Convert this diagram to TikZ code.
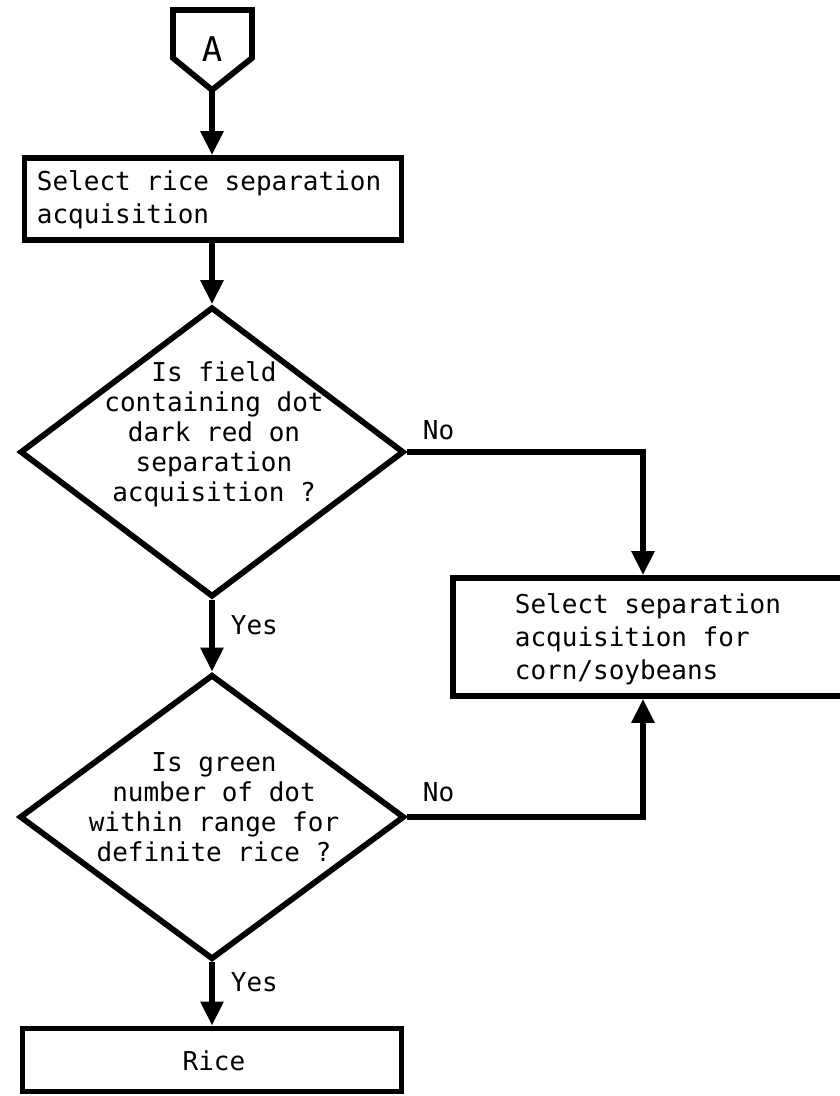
\documentclass[tikz,border=0pt]{standalone}
\usepackage{fontspec}
\setmonofont{DejaVu Sans Mono}
\usetikzlibrary{shapes.geometric,arrows.meta}
\begin{document}
\begin{tikzpicture}[x=1pt,y=-1pt,line width=5.8pt,line join=miter,
  box/.style={draw,rectangle,inner sep=0pt},
  dia/.style={draw,diamond,inner sep=0pt},
  txt/.style={font=\fontsize{26}{30}\selectfont\ttfamily,align=center,inner sep=0pt},
  btxt/.style={font=\fontsize{26}{33}\selectfont\ttfamily,align=left,inner sep=0pt,anchor=west},
  lbl/.style={font=\fontsize{26}{30}\selectfont\ttfamily,inner sep=0pt,anchor=west},
  arr/.style={-{Triangle[width=22pt,length=24pt]}}]
\useasboundingbox (0,0) rectangle (840,1096);
\clip (0,0) rectangle (840,1096);
% off-page connector A
\draw (173,10) -- (252,10) -- (252,58) -- (212,90) -- (173,58) -- cycle;
\node[font=\fontsize{34}{34}\selectfont\ttfamily,inner sep=0pt] (A) at (212,49) {A};
\coordinate (Ap) at (212,90);
% boxes
\node[box,minimum width=377pt,minimum height=82pt] (b1) at (213,199) {};
\node[btxt] (b1t) at (34,200) {Select rice separation\\acquisition};
\node[dia,minimum width=384pt,minimum height=290pt] (d1) at (212,452) {};
\node[txt] (d1t) at (214,434) {Is field\\containing dot\\dark red on\\separation\\acquisition ?};
\node[dia,minimum width=385pt,minimum height=285pt] (d2) at (212,817) {};
\node[txt] (d2t) at (214,807) {Is green\\number of dot\\within range for\\definite rice ?};
\node[box,minimum width=392pt,minimum height=118pt] (b2) at (649,637) {};
\node[btxt] (b2t) at (512,639) {Select separation\\acquisition for\\corn/soybeans};
\node[box,minimum width=379pt,minimum height=63pt] (rice) at (212,1060) {};
\node[txt] (ricet) at (214,1061) {Rice};
% connectors
\draw[arr] (Ap) -- (Ap |- b1.north);
\draw[arr] (Ap |- b1.south) -- (d1.north);
\draw[arr] (d1.south) -- (d2.north);
\draw[arr] (d2.south) -- (rice.north);
\coordinate (c1) at ([xshift=-6pt]b2.north);
\coordinate (c2) at ([xshift=-6pt]b2.south);
\draw[arr] (d1.east) -| (c1);
\draw[arr] (d2.east) -| (c2);
% labels
\node[lbl] (yes1) at (228,625) {Yes};
\node[lbl] (yes2) at (228,982) {Yes};
\node[lbl] (no1) at (420,430) {No};
\node[lbl] (no2) at (420,792) {No};
\end{tikzpicture}
\end{document}
